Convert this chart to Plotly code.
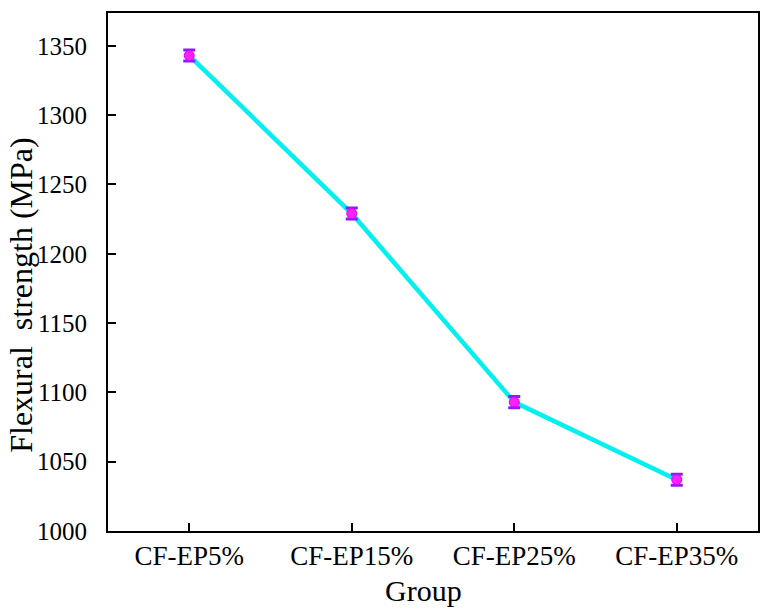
import plotly.graph_objects as go

groups = ["CF-EP5%", "CF-EP15%", "CF-EP25%", "CF-EP35%"]
strength = [1343, 1229, 1093, 1037]
err = [4, 4, 4, 4]
yticks = [1000, 1050, 1100, 1150, 1200, 1250, 1300, 1350]

fig = go.Figure()
fig.add_trace(go.Scatter(
    x=[0, 1, 2, 3], y=strength, mode="lines",
    line=dict(color="#00f0f0", width=4.5), showlegend=False, hoverinfo="skip"))
fig.add_trace(go.Scatter(
    x=[0, 1, 2, 3], y=strength, mode="markers",
    marker=dict(color="#ff20ff", size=10, line=dict(color="#e000e0", width=1)),
    error_y=dict(type="data", array=err, color="#8a1cff", thickness=3, width=6),
    showlegend=False))

font = "Liberation Serif, Times New Roman, serif"
fig.update_layout(
    width=771, height=610,
    margin=dict(l=108, r=12, t=11, b=79),
    plot_bgcolor="white", paper_bgcolor="white",
    font=dict(family=font, size=25, color="black"),
    xaxis=dict(
        tickmode="array", tickvals=[0, 1, 2, 3], ticktext=groups,
        range=[-0.5, 3.5], showgrid=False, zeroline=False,
        showline=True, linecolor="black", linewidth=2, mirror=True,
        ticks="inside", ticklen=8, tickwidth=1.5, tickcolor="black",
        tickfont=dict(family=font, size=27)),
    yaxis=dict(
        tickvals=yticks, range=[1000, 1373.7], showgrid=False, zeroline=False,
        showline=True, linecolor="black", linewidth=2, mirror=True,
        ticks="inside", ticklen=8, tickwidth=1.5, tickcolor="black",
        ticklabelstandoff=14,
        tickfont=dict(family=font, size=25)),
    annotations=[
        dict(text="Flexural  strength (MPa)", xref="paper", yref="paper",
             x=0, y=0.456, xshift=-87, textangle=-90, showarrow=False,
             xanchor="center", yanchor="middle", borderpad=0,
             font=dict(family=font, size=32, color="black")),
        dict(text="Group", xref="paper", yref="paper",
             x=0.486, y=0, yshift=-59, showarrow=False,
             xanchor="center", yanchor="middle",
             font=dict(family=font, size=30, color="black")),
    ],
)
fig.write_html("out.html")
